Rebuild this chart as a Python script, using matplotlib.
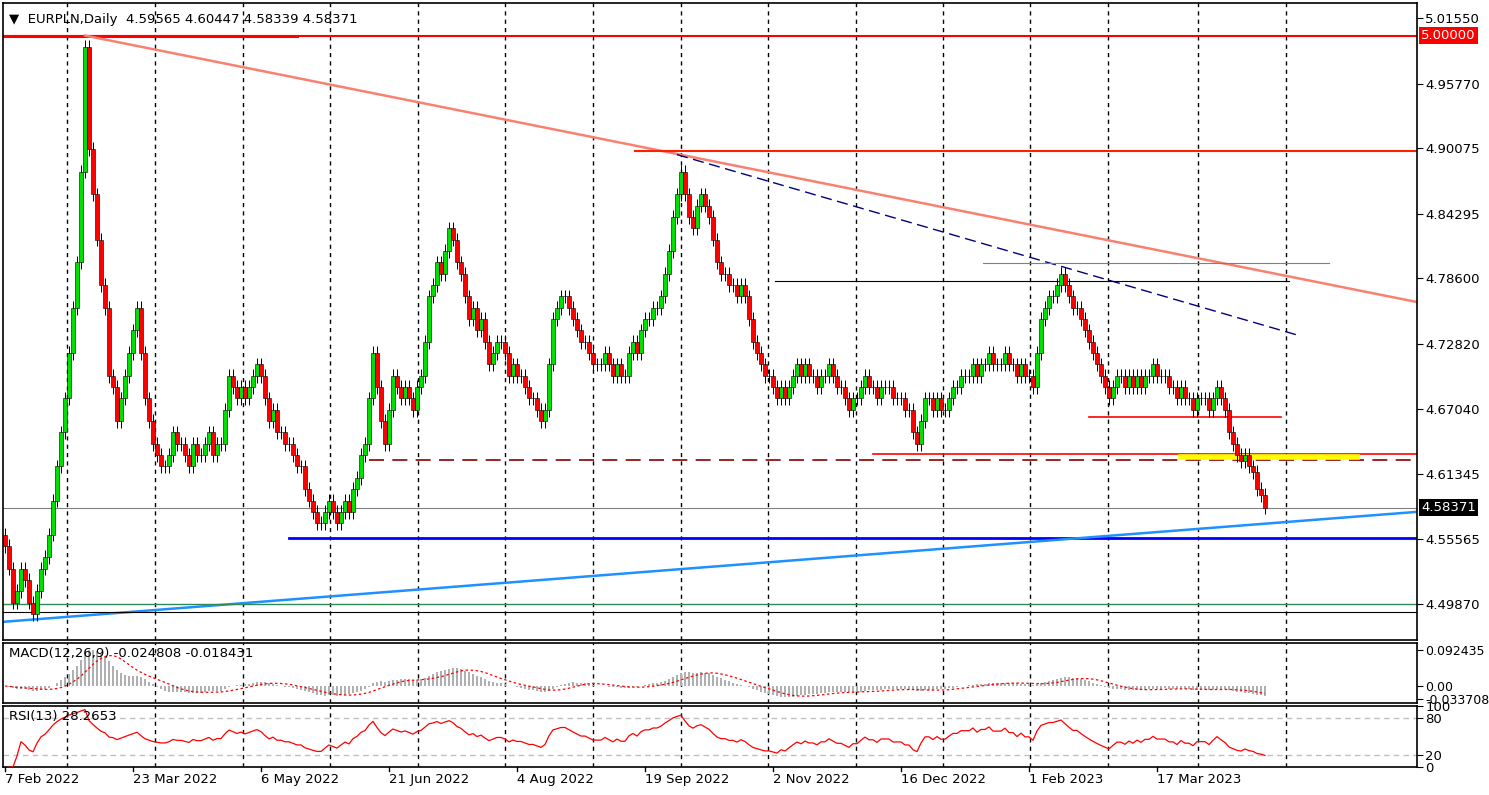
import matplotlib
matplotlib.use("Agg")
import matplotlib.pyplot as plt
import numpy as np
import pandas as pd

closes = [
4.55,4.53,4.50,4.51,4.53,4.52,4.50,4.49,4.51,4.53, 4.54,4.56,4.59,4.62,4.65,4.68,4.72,4.76,4.80,4.88,
4.99,4.90,4.86,4.82,4.78,4.76,4.70,4.69,4.66,4.68, 4.70,4.72,4.74,4.76,4.72,4.68,4.66,4.64,4.63,4.62,
4.62,4.63,4.65,4.64,4.64,4.63,4.62,4.64,4.63,4.63, 4.64,4.65,4.63,4.64,4.64,4.67,4.70,4.69,4.68,4.69,
4.68,4.69,4.70,4.71,4.70,4.68,4.66,4.67,4.65,4.65, 4.64,4.64,4.63,4.62,4.62,4.60,4.59,4.58,4.57,4.57,
4.58,4.59,4.58,4.57,4.58,4.59,4.58,4.60,4.61,4.63, 4.64,4.68,4.72,4.69,4.66,4.64,4.67,4.70,4.69,4.68,
4.69,4.68,4.67,4.69,4.70,4.73,4.77,4.78,4.80,4.79, 4.81,4.83,4.82,4.80,4.79,4.77,4.75,4.76,4.74,4.75,
4.73,4.71,4.72,4.73,4.73,4.72,4.70,4.71,4.70,4.70, 4.69,4.68,4.68,4.67,4.66,4.67,4.71,4.75,4.76,4.77,
4.77,4.76,4.75,4.74,4.73,4.73,4.72,4.71,4.71,4.71, 4.72,4.71,4.70,4.71,4.70,4.70,4.72,4.73,4.72,4.74,
4.75,4.75,4.76,4.76,4.77,4.79,4.81,4.84,4.86,4.88, 4.86,4.84,4.83,4.85,4.86,4.85,4.84,4.82,4.80,4.79,
4.79,4.78,4.78,4.77,4.78,4.77,4.75,4.73,4.72,4.71, 4.70,4.70,4.69,4.68,4.69,4.68,4.69,4.70,4.71,4.70,
4.71,4.70,4.70,4.69,4.70,4.70,4.71,4.70,4.69,4.69, 4.68,4.67,4.68,4.68,4.69,4.70,4.69,4.69,4.68,4.69,
4.69,4.69,4.68,4.68,4.68,4.67,4.67,4.65,4.64,4.66, 4.68,4.68,4.67,4.68,4.67,4.67,4.68,4.69,4.69,4.70,
4.70,4.70,4.71,4.70,4.71,4.71,4.72,4.71,4.71,4.71, 4.72,4.71,4.71,4.70,4.71,4.70,4.70,4.69,4.72,4.75,
4.76,4.77,4.77,4.78,4.79,4.78,4.77,4.76,4.76,4.75, 4.74,4.73,4.72,4.71,4.70,4.69,4.68,4.69,4.70,4.70,
4.69,4.70,4.69,4.70,4.69,4.70,4.70,4.71,4.70,4.70, 4.70,4.69,4.69,4.68,4.69,4.68,4.68,4.67,4.68,4.68,
4.68,4.67,4.68,4.69,4.68,4.67,4.65,4.64,4.63,4.625,4.63,4.62,4.615,4.60,4.595,4.58371,
]
first_open = 4.56
date_labels = ["7 Feb 2022", "23 Mar 2022", "6 May 2022", "21 Jun 2022", "4 Aug 2022",
               "19 Sep 2022", "2 Nov 2022", "16 Dec 2022", "1 Feb 2023", "17 Mar 2023"]
price_ticks = [5.01550, 4.95770, 4.90075, 4.84295, 4.78600, 4.72820, 4.67040, 4.61345, 4.55565, 4.49870]
last_price = 4.58371

c = np.array(closes)
o = np.concatenate([[first_open], c[:-1]])
n = len(c)
idx = np.arange(n)
hi = np.maximum(o, c) + 0.006
lo = np.minimum(o, c) - 0.006

s = pd.Series(c)
macd = s.ewm(span=12, adjust=False).mean() - s.ewm(span=26, adjust=False).mean()
sig = macd.rolling(9, min_periods=1).mean()
d = s.diff()
up = d.clip(lower=0).ewm(alpha=1/13, adjust=True).mean()
dn = (-d.clip(upper=0)).ewm(alpha=1/13, adjust=True).mean()
rsi = 100 - 100 / (1 + up / dn.replace(0, 1e-9))

FS = 9.5
fig = plt.figure(figsize=(14.89, 7.95), dpi=100)
L, R = 3/1489, 1417/1489
ax = fig.add_axes([L, 1-640/795, R-L, 637/795])
axm = fig.add_axes([L, 1-703/795, R-L, 60/795])
axr = fig.add_axes([L, 1-767/795, R-L, 61/795])
xmin, xmax = -0.5, 353
grid_px = [67, 155, 243, 330, 418, 505, 593, 681, 768, 856, 943, 1030, 1108, 1198, 1286]
grid_x = [(p - 5) / 4 for p in grid_px]
for a in (ax, axm, axr):
    a.set_xlim(xmin, xmax)
    a.set_xticks([])
    a.yaxis.tick_right()
    a.tick_params(axis='y', labelsize=FS, length=4, pad=2)
    for sp in a.spines.values():
        sp.set_linewidth(1.2)
    for gx in grid_x:
        a.axvline(gx, color='black', ls=(0, (3, 3)), lw=1, zorder=0)

ax.set_ylim(4.4670, 5.0287)
ax.set_yticks(price_ticks)
ax.set_yticklabels([f"{v:.5f}" for v in price_ticks])

ax.axhline(5.0, color='#ff0000', lw=1.5, zorder=1)
ax.plot([-0.5, 73], [5.0, 5.0], color='#ff0000', lw=2.2, zorder=1)
ax.plot([20, 353], [5.0, 4.765], color='#fa8072', lw=1.8, zorder=1)
ax.plot([157.5, 353], [4.8985, 4.8985], color='#ff2000', lw=1.5, zorder=1)
ax.plot([168, 323], [4.895, 4.736], color='#000080', lw=1, ls=(0, (8, 4)), zorder=1)
ax.plot([192.5, 321], [4.784, 4.784], color='black', lw=0.8, zorder=1)
ax.plot([244.5, 331], [4.799, 4.799], color='#808080', lw=0.8, zorder=1)
ax.plot([271, 319], [4.664, 4.664], color='#ff0000', lw=1.2, zorder=1)
ax.plot([217, 353], [4.631, 4.631], color='#ff0000', lw=1.2, zorder=1)
ax.plot([91, 353], [4.626, 4.626], color='#8b0000', lw=1.2, ls=(0, (9, 5)), zorder=1)
ax.plot([294, 338], [4.628, 4.628], color='#ffff00', lw=4, zorder=1)
ax.axhline(last_price, color='#808080', lw=0.8, zorder=1)
ax.plot([71, 353], [4.557, 4.557], color='#0000ff', lw=2, zorder=1)
ax.plot([-0.5, 353], [4.483, 4.580], color='#1e90ff', lw=1.8, zorder=1)
ax.axhline(4.4985, color='#2e8b57', lw=1, zorder=1)
ax.axhline(4.4915, color='black', lw=0.8, zorder=1)

upm = c >= o
ax.vlines(idx, lo, hi, color='black', lw=0.7, zorder=2)
ax.bar(idx[upm], (c - o)[upm], bottom=o[upm], width=0.8, color='#00e000', edgecolor='black', lw=0.4, zorder=3)
ax.bar(idx[~upm], (c - o)[~upm], bottom=o[~upm], width=0.8, color='#ff0000', edgecolor='black', lw=0.4, zorder=3)

ax.text(1.003, 5.0, "5.00000", transform=ax.get_yaxis_transform(), color='white', fontsize=FS,
        va='center', ha='left', bbox=dict(boxstyle='square,pad=0.15', fc='#ff0000', ec='none'), clip_on=False)
ax.text(1.003, last_price, f"{last_price:.5f}", transform=ax.get_yaxis_transform(), color='white', fontsize=FS,
        va='center', ha='left', bbox=dict(boxstyle='square,pad=0.15', fc='black', ec='none'), clip_on=False)
ax.text(0.004, 0.985, "▼  EURPLN,Daily  4.59565 4.60447 4.58339 4.58371", transform=ax.transAxes,
        fontsize=FS, va='top', ha='left')

axm.set_ylim(-0.0435, 0.110)
axm.bar(idx, macd, width=0.4, color='#b0b0b0', zorder=2)
axm.plot(idx, sig, color='#ff0000', lw=0.9, ls=(0, (2, 2)), zorder=3)
axm.set_yticks([0.092435, 0.0, -0.033708])
axm.set_yticklabels(["0.092435", "0.00", "-0.033708"])
axm.tick_params(axis='y', labelsize=9)
axm.text(0.004, 0.93, "MACD(12,26,9) -0.024808 -0.018431", transform=axm.transAxes, fontsize=FS, va='top')

axr.set_ylim(0, 100)
for lv in (80, 20):
    axr.axhline(lv, color='#c0c0c0', ls=(0, (4, 3)), lw=1, zorder=1)
axr.plot(idx, rsi, color='#ff0000', lw=0.9, zorder=3)
axr.set_yticks([100, 80, 20, 0])
axr.set_yticklabels(["100", "80", "20", "0"])
axr.text(0.004, 0.93, "RSI(13) 28.2653", transform=axr.transAxes, fontsize=FS, va='top')

for k, lab in enumerate(date_labels):
    axr.text(k * 32, -0.1, lab, transform=axr.get_xaxis_transform(), fontsize=FS, ha='left', va='top')
    axr.plot([k * 32, k * 32], [0, -0.06], transform=axr.get_xaxis_transform(), color='black', lw=1, clip_on=False)

fig.savefig("out.png", dpi=100)
